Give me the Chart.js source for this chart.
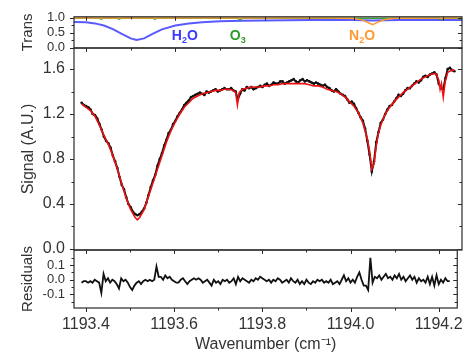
<!DOCTYPE html>
<html><head><meta charset="utf-8">
<script src="https://cdn.jsdelivr.net/npm/chart.js@4.4.1/dist/chart.umd.min.js"></script>
<style>
html,body{margin:0;padding:0;background:#fff;width:470px;height:354px;overflow:hidden}
canvas{position:absolute;left:0;top:0}
</style></head>
<body>
<canvas id="cTop" width="470" height="354"></canvas>
<canvas id="cMid" width="470" height="354"></canvas>
<canvas id="cBot" width="470" height="354"></canvas>
<script>
// ---------- data ----------
const xMajorTicks = [1193.4, 1193.6, 1193.8, 1194.0, 1194.2];
const xMinorTicks = [1193.5, 1193.7, 1193.9, 1194.1];
const transTicks = [0.0, 0.5, 1.0];
const transMinor = [0.25, 0.75];
const signalTicks = [0.0, 0.4, 0.8, 1.2, 1.6];
const signalMinor = [0.2, 0.6, 1.0, 1.4];
const resTicks = [-0.1, 0.0, 0.1];
const resMinor = [-0.15, -0.05, 0.05, 0.15];

const h2oX = [1193.373,1193.40,1193.42,1193.44,1193.46,1193.48,1193.50,1193.513,1193.53,1193.55,1193.57,1193.60,1193.63,1193.66,1193.70,1193.75,1193.80,1193.90,1194.00,1194.04,1194.10,1194.242];
const h2oY = [0.86,0.85,0.81,0.74,0.62,0.46,0.31,0.26,0.31,0.47,0.61,0.74,0.81,0.85,0.88,0.90,0.91,0.92,0.92,0.91,0.92,0.92];
const o3X = [1193.373,1193.43,1193.434,1193.438,1193.47,1193.474,1193.478,1193.55,1193.554,1193.558,1193.74,1193.745,1193.75,1194.19,1194.195,1194.20,1194.23,1194.234,1194.238,1194.242];
const o3Y = [0.98,0.98,0.95,0.98,0.98,0.95,0.98,0.98,0.95,0.98,0.98,0.93,0.98,0.98,0.95,0.98,0.98,0.95,0.98,0.98];
const n2oX = [1193.373,1193.95,1194.00,1194.02,1194.03,1194.042,1194.055,1194.07,1194.09,1194.242];
const n2oY = [0.99,0.99,0.97,0.92,0.85,0.77,0.86,0.94,0.98,0.99];

const speciesText = [['H','2','O'],['O','3',''],['N','2','O']];
const speciesX = [1193.592, 1193.722, 1193.989];
const speciesY = [0.26, 0.26, 0.26];
const speciesColor = ['#3b3bff','#2f9a2f','#ff9a33'];

const fitX = [1193.39,1193.40,1193.41,1193.42,1193.43,1193.44,1193.45,1193.46,1193.47,1193.48,1193.49,1193.50,1193.51,1193.515,
 1193.52,1193.53,1193.54,1193.55,1193.56,1193.57,1193.58,1193.59,1193.60,1193.61,1193.62,1193.63,1193.64,1193.65,1193.66,1193.67,1193.68,1193.69,1193.70,1193.71,1193.72,1193.73,
 1193.735,1193.739,1193.743,
 1193.75,1193.76,1193.77,1193.78,1193.79,1193.80,1193.81,1193.82,1193.83,1193.84,1193.85,1193.86,1193.87,1193.88,1193.89,1193.90,1193.91,1193.92,1193.93,1193.94,1193.95,1193.96,1193.97,1193.98,1193.99,1194.00,1194.01,1194.02,1194.03,
 1194.035,1194.04,1194.045,1194.05,1194.055,
 1194.06,1194.07,1194.08,1194.09,1194.10,1194.11,1194.12,1194.13,1194.14,1194.15,1194.16,1194.17,1194.18,
 1194.185,1194.19,1194.193,1194.196,1194.20,1194.204,1194.21,1194.22,1194.225];
const fitY = [1.29,1.26,1.23,1.18,1.10,1.01,0.93,0.83,0.71,0.58,0.45,0.35,0.28,0.26,
 0.28,0.35,0.47,0.59,0.71,0.83,0.95,1.05,1.13,1.20,1.26,1.30,1.34,1.36,1.38,1.39,1.40,1.41,1.41,1.42,1.42,1.41,
 1.39,1.28,1.39,
 1.42,1.43,1.44,1.44,1.44,1.45,1.45,1.46,1.46,1.47,1.47,1.47,1.47,1.47,1.47,1.46,1.45,1.45,1.44,1.42,1.41,1.40,1.38,1.35,1.31,1.27,1.21,1.12,0.98,
 0.87,0.71,0.76,0.92,1.03,
 1.10,1.20,1.26,1.31,1.35,1.39,1.42,1.45,1.48,1.51,1.53,1.55,1.56,
 1.55,1.50,1.42,1.47,1.35,1.48,1.57,1.59,1.59];

// measured signal, whole steps
const dataX = [1193.39,1193.40,1193.41,1193.42,1193.43,1193.44,1193.45,1193.46,1193.47,1193.48,1193.49,1193.50,1193.51,1193.52,1193.53,1193.54,1193.55,1193.56,1193.57,1193.58,1193.59,
 1193.60,1193.61,1193.62,1193.63,1193.64,1193.65,1193.66,1193.67,1193.68,1193.69,1193.70,1193.71,1193.72,1193.73,1193.74,1193.75,1193.76,1193.77,1193.78,1193.79,
 1193.80,1193.81,1193.82,1193.83,1193.84,1193.85,1193.86,1193.87,1193.88,1193.89,1193.90,1193.91,1193.92,1193.93,1193.94,1193.95,1193.96,1193.97,1193.98,1193.99,
 1194.00,1194.01,1194.02,1194.03,1194.04,1194.05,1194.06,1194.07,1194.08,1194.09,1194.10,1194.11,1194.12,1194.13,1194.14,1194.15,1194.16,1194.17,1194.18,1194.19,1194.20,1194.21,1194.22];
const dataY = [1.30,1.27,1.24,1.19,1.11,1.00,0.94,0.83,0.72,0.57,0.46,0.37,0.31,0.31,0.36,0.48,0.61,0.74,0.85,0.97,1.06,
 1.14,1.21,1.28,1.32,1.36,1.38,1.38,1.40,1.40,1.42,1.41,1.43,1.42,1.41,1.33,1.42,1.44,1.44,1.43,1.45,
 1.46,1.45,1.48,1.47,1.49,1.48,1.50,1.49,1.50,1.49,1.49,1.47,1.47,1.45,1.44,1.41,1.42,1.38,1.36,1.30,
 1.29,1.21,1.14,0.96,0.69,0.95,1.12,1.20,1.27,1.31,1.37,1.38,1.43,1.45,1.49,1.50,1.54,1.55,1.57,1.47,1.42,1.60,1.59];
// measured signal, half steps
const dataX2 = [1193.395,1193.405,1193.415,1193.425,1193.435,1193.445,1193.455,1193.465,1193.475,1193.485,1193.495,1193.505,1193.515,1193.525,1193.535,1193.545,1193.555,1193.565,1193.575,1193.585,
 1193.595,1193.605,1193.615,1193.625,1193.635,1193.645,1193.655,1193.665,1193.675,1193.685,1193.695,1193.705,1193.715,1193.725,1193.735,1193.745,1193.755,1193.765,1193.775,1193.785,
 1193.795,1193.805,1193.815,1193.825,1193.835,1193.845,1193.855,1193.865,1193.875,1193.885,1193.895,1193.905,1193.915,1193.925,1193.935,1193.945,1193.955,1193.965,1193.975,1193.985,
 1193.995,1194.005,1194.015,1194.025,1194.035,1194.045,1194.055,1194.065,1194.075,1194.085,1194.095,1194.105,1194.115,1194.125,1194.135,1194.145,1194.155,1194.165,1194.175,1194.185,
 1194.195,1194.205,1194.215,1194.225];
const dataY2 = [1.28,1.26,1.20,1.16,1.06,0.96,0.90,0.78,0.64,0.53,0.40,0.33,0.30,0.33,0.41,0.55,0.66,0.80,0.92,1.03,
 1.11,1.18,1.24,1.30,1.35,1.37,1.39,1.37,1.39,1.41,1.40,1.42,1.42,1.43,1.40,1.38,1.41,1.43,1.42,1.44,
 1.44,1.47,1.46,1.47,1.49,1.47,1.49,1.51,1.48,1.51,1.50,1.48,1.48,1.46,1.46,1.43,1.40,1.40,1.37,1.33,
 1.31,1.25,1.17,1.07,0.84,0.78,1.04,1.15,1.24,1.28,1.34,1.36,1.41,1.43,1.47,1.48,1.53,1.53,1.56,1.55,
 1.43,1.52,1.61,1.58];

const resX = [1193.390,1193.395,1193.400,1193.405,1193.410,1193.415,1193.420,1193.425,1193.430,1193.435,1193.440,1193.445,1193.450,1193.455,1193.460,1193.465,1193.470,1193.475,1193.480,1193.485,
 1193.490,1193.495,1193.500,1193.505,1193.510,1193.515,1193.520,1193.525,1193.530,1193.535,1193.540,1193.545,1193.550,1193.555,1193.560,1193.565,1193.570,1193.575,1193.580,1193.585,
 1193.590,1193.595,1193.600,1193.605,1193.610,1193.615,1193.620,1193.625,1193.630,1193.635,1193.640,1193.645,1193.650,1193.655,1193.660,1193.665,1193.670,1193.675,1193.680,1193.685,
 1193.690,1193.695,1193.700,1193.705,1193.710,1193.715,1193.720,1193.725,1193.730,1193.735,1193.740,1193.745,1193.750,1193.755,1193.760,1193.765,1193.770,1193.775,1193.780,1193.785,
 1193.790,1193.795,1193.800,1193.805,1193.810,1193.815,1193.820,1193.825,1193.830,1193.835,1193.840,1193.845,1193.850,1193.855,1193.860,1193.865,1193.870,1193.875,1193.880,1193.885,
 1193.890,1193.895,1193.900,1193.905,1193.910,1193.915,1193.920,1193.925,1193.930,1193.935,1193.940,1193.945,1193.950,1193.955,1193.960,1193.965,1193.970,1193.975,1193.980,1193.985,
 1193.990,1193.995,1194.000,1194.005,1194.010,1194.015,1194.020,1194.025,1194.030,1194.035,1194.040,1194.045,1194.050,1194.055,1194.060,1194.065,1194.070,1194.075,1194.080,1194.085,
 1194.090,1194.095,1194.100,1194.105,1194.110,1194.115,1194.120,1194.125,1194.130,1194.135,1194.140,1194.145,1194.150,1194.155,1194.160,1194.165,1194.170,1194.175,1194.180,1194.185,
 1194.190,1194.195,1194.200,1194.205,1194.210,1194.215,1194.220,1194.225];
const resY = [-0.02,-0.01,-0.01,-0.02,-0.01,-0.02,0.00,-0.01,-0.02,-0.09,0.04,-0.01,0.01,-0.02,0.00,-0.01,-0.03,-0.06,0.01,-0.01,
 0.00,-0.02,-0.05,-0.07,-0.04,-0.02,-0.01,-0.03,-0.01,0.00,-0.01,0.00,-0.01,0.00,0.09,0.02,0.02,0.00,0.03,0.01,
 0.02,0.00,-0.01,-0.02,-0.02,0.00,0.01,-0.01,-0.03,-0.01,0.00,0.01,0.00,0.01,0.00,-0.02,-0.01,0.00,-0.02,-0.04,
 0.00,-0.02,-0.01,-0.03,0.00,-0.01,0.00,-0.02,-0.01,0.01,-0.03,0.02,-0.01,0.01,0.00,-0.01,-0.02,0.00,-0.01,0.01,
 0.00,0.02,0.01,0.00,-0.01,0.00,-0.02,0.00,-0.01,0.01,0.00,-0.02,-0.01,0.00,-0.02,0.01,-0.01,-0.02,0.00,-0.03,
 -0.01,-0.03,0.00,-0.02,-0.03,-0.01,-0.02,0.00,-0.01,0.00,-0.02,-0.01,-0.02,0.00,-0.03,-0.02,-0.01,-0.03,0.00,0.03,
 -0.01,0.01,-0.02,0.00,-0.02,0.02,0.05,0.00,-0.04,-0.04,-0.07,0.15,-0.02,0.02,0.01,0.03,0.00,0.02,0.04,0.01,
 0.02,0.00,0.03,0.01,0.04,0.00,0.02,-0.01,0.01,0.03,0.00,0.02,-0.02,0.01,-0.01,0.00,-0.02,0.02,-0.03,0.02,
 -0.04,0.03,-0.03,0.00,-0.02,0.01,-0.01,-0.01];

// ---------- layout ----------
const W = 470, H = 354, LEFT = 74, RIGHT = 462;
const X_MIN = 1193.373, X_MAX = 1194.242;
const FONT = "'Liberation Sans', Arial, Helvetica, sans-serif";
const TXT = '#333';

const pts = (xs, ys) => xs.map((x, i) => ({x: x, y: ys[i]}));
const measured = pts(dataX, dataY).concat(pts(dataX2, dataY2)).sort((a, b) => a.x - b.x);

const framePlugin = {
  id: 'frame',
  afterDatasetsDraw(chart, args, o) {
    const {ctx, chartArea: a, scales: {x, y}} = chart;
    ctx.save();
    ctx.strokeStyle = '#2a2a2a';
    ctx.lineWidth = 1.2;
    ctx.strokeRect(a.left, a.top, a.right - a.left, a.bottom - a.top);
    ctx.lineWidth = 1;
    ctx.beginPath();
    const xt = (vals, len) => vals.forEach(v => {
      const p = Math.round(x.getPixelForValue(v)) + 0.5;
      ctx.moveTo(p, a.top); ctx.lineTo(p, a.top + len);
      if (o.bottomTicks) { ctx.moveTo(p, a.bottom); ctx.lineTo(p, a.bottom + len); }
    });
    const yt = (vals, len) => vals.forEach(v => {
      const p = Math.round(y.getPixelForValue(v)) + 0.5;
      ctx.moveTo(a.left - len, p); ctx.lineTo(a.left, p);
      ctx.moveTo(a.right - len, p); ctx.lineTo(a.right, p);
    });
    xt(xMajorTicks, 4); xt(xMinorTicks, 2.5);
    yt(o.yMajor, 4); yt(o.yMinor, 2.5);
    ctx.stroke();
    ctx.restore();
  }
};

const speciesPlugin = {
  id: 'species',
  afterDatasetsDraw(chart) {
    const {ctx, scales: {x, y}} = chart;
    ctx.save();
    ctx.textBaseline = 'alphabetic';
    ctx.textAlign = 'left';
    speciesText.forEach((parts, i) => {
      let px = x.getPixelForValue(speciesX[i]);
      const py = y.getPixelForValue(speciesY[i]);
      ctx.fillStyle = speciesColor[i];
      ctx.font = 'bold 14px ' + FONT;
      ctx.fillText(parts[0], px, py); px += ctx.measureText(parts[0]).width;
      ctx.font = 'bold 9px ' + FONT;
      ctx.fillText(parts[1], px, py + 3); px += ctx.measureText(parts[1]).width;
      ctx.font = 'bold 14px ' + FONT;
      ctx.fillText(parts[2], px, py);
    });
    ctx.restore();
  }
};

function makePanel(id, cfg) {
  const xScale = {
    type: 'linear', min: X_MIN, max: X_MAX, display: cfg.showX,
    grid: {display: false, drawTicks: false}, border: {display: false},
    afterBuildTicks: s => { s.ticks = xMajorTicks.map(v => ({value: v})); },
    afterFit: s => { if (cfg.showX) s.height = H - cfg.bottom; },
    ticks: {autoSkip: false, maxRotation: 0, padding: 7, color: TXT,
      font: {family: FONT, size: 16}, callback: v => v.toFixed(1)},
    title: {display: cfg.showX, text: 'Wavenumber (cm\u207B\u00B9)', color: TXT,
      font: {family: FONT, size: 16}, padding: {top: 0, bottom: 0}}
  };
  const yScale = {
    type: 'linear', position: 'left', min: cfg.yMin, max: cfg.yMax,
    grid: {display: false, drawTicks: false}, border: {display: false},
    afterBuildTicks: s => { s.ticks = cfg.yMajor.map(v => ({value: v})); },
    afterFit: s => { s.width = LEFT; },
    ticks: {autoSkip: false, padding: 9, color: TXT,
      font: {family: FONT, size: cfg.tickSize}, callback: v => v.toFixed(1)},
    title: {display: true, text: cfg.title, color: TXT,
      font: {family: FONT, size: cfg.titleSize}, padding: {top: 19, bottom: 0}}
  };
  return new Chart(document.getElementById(id), {
    type: 'line',
    data: {datasets: cfg.datasets},
    options: {
      responsive: false, animation: false, devicePixelRatio: 1,
      layout: {padding: {left: 0, right: W - RIGHT, top: cfg.top, bottom: cfg.showX ? 0 : H - cfg.bottom}},
      scales: {x: xScale, y: yScale},
      plugins: {legend: {display: false}, tooltip: {enabled: false},
        frame: {yMajor: cfg.yMajor, yMinor: cfg.yMinor, bottomTicks: cfg.showX}},
      elements: {point: {radius: 0}, line: {tension: 0}}
    },
    plugins: [framePlugin].concat(cfg.extra || [])
  });
}

makePanel('cTop', {
  top: 11, bottom: 48, yMin: -0.01, yMax: 1.03, yMajor: transTicks, yMinor: transMinor,
  tickSize: 13, title: 'Trans', titleSize: 15, showX: false, extra: [speciesPlugin],
  datasets: [
    {data: pts(n2oX, n2oY), borderColor: '#ff9a33', borderWidth: 1.5, pointRadius: 0},
    {data: pts(o3X, o3Y), borderColor: '#3aa33a', borderWidth: 1.5, pointRadius: 0},
    {data: pts(h2oX, h2oY), borderColor: '#5a5aff', borderWidth: 2, pointRadius: 0}
  ]
});

makePanel('cMid', {
  top: 48, bottom: 250, yMin: -0.009, yMax: 1.787, yMajor: signalTicks, yMinor: signalMinor,
  tickSize: 16, title: 'Signal (A.U.)', titleSize: 16, showX: false,
  datasets: [
    {data: pts(fitX, fitY), borderColor: '#ee1111', borderWidth: 1.6, pointRadius: 0},
    {data: measured, borderColor: '#111', borderWidth: 2, pointRadius: 1.3,
      pointBackgroundColor: '#111', pointBorderWidth: 0}
  ]
});

makePanel('cBot', {
  top: 250, bottom: 308, yMin: -0.193, yMax: 0.203, yMajor: resTicks, yMinor: resMinor,
  tickSize: 13, title: 'Residuals', titleSize: 15, showX: true,
  datasets: [
    {data: pts(resX, resY), borderColor: '#111', borderWidth: 1.8, pointRadius: 0}
  ]
});
</script>
</body></html>
